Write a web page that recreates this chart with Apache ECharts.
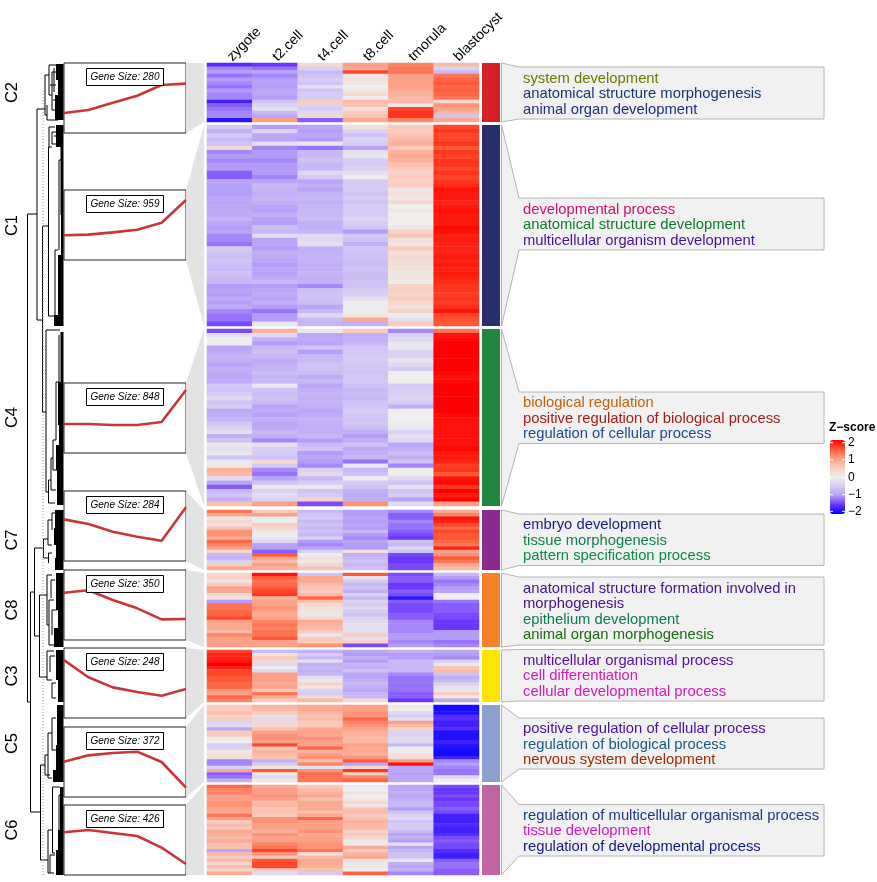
<!DOCTYPE html>
<html><head><meta charset="utf-8">
<style>html,body{margin:0;padding:0;background:#fff}#c{width:877px;height:882px}</style>
<script src="https://cdn.jsdelivr.net/npm/echarts@6/dist/echarts.min.js"></script>
</head><body><div id="c"></div>
<script>
const stages = ['zygote','t2.cell','t4.cell','t8.cell','tmorula','blastocyst'];
const clusterNames = ['C2','C1','C4','C7','C8','C3','C5','C6'];
const geneSizes = [280,959,848,284,350,248,372,426];

const zC2 = [
[-1.6,-1.5,0.3,1.0,1.2,0.7],[-1.1,-1.2,-0.4,0.9,1.3,-0.4],[-1.0,-0.9,-0.7,1.6,1.3,-0.7],[-1.2,-1.1,-0.6,0.1,1.0,1.3],
[-1.0,-1.0,-0.5,0.2,1.0,1.4],[-1.1,-0.95,-0.6,0.1,1.0,1.5],[-1.2,-1.0,-0.2,0.0,1.0,1.4],[-1.0,-0.9,-0.6,0.1,0.9,1.45],
[-1.1,-0.9,-0.5,0.3,0.8,1.4],[-1.1,-1.0,-0.5,0.0,0.7,1.3],[-1.7,-0.6,0.5,0.7,0.7,0.3],[-1.3,-0.4,-0.4,0.6,0.1,1.1],
[-1.2,-0.2,-0.5,0.2,1.6,1.0],[-1.1,-0.7,-0.3,0.5,1.7,0.7],[-1.1,-0.9,0.3,0.6,1.7,-0.6],[-1.8,1.0,-1.3,0.9,1.2,0.9]];
const zC1 = [
[-0.5,-1.0,-0.9,0.2,0.5,1.6],[-0.8,-0.4,-1.0,-0.4,0.5,1.7],[-0.5,-0.9,-0.9,-0.6,0.6,1.6],[-0.7,-0.9,-1.0,-0.4,0.7,1.6],
[-0.6,-0.2,-0.1,-0.5,0.8,1.7],[0.3,-1.1,-1.2,-0.9,0.5,1.5],[-1.1,-1.0,-0.7,-0.2,0.8,1.7],[-1.0,-1.0,-0.7,-0.1,0.9,1.6],
[-1.1,-1.1,-0.6,-0.5,0.8,1.7],[-1.0,-1.0,-0.7,-0.5,0.6,1.7],[-1.0,-1.0,-0.7,-0.4,0.5,1.6],[-1.3,-1.0,-0.3,-0.2,0.4,1.7],
[-1.3,-1.1,-0.5,0,0.5,1.6],[-0.9,-0.9,-0.9,-0.5,0.4,1.7],[-0.95,-0.7,-0.8,-0.5,0.5,1.75],[-0.95,-0.75,-0.9,-0.5,0.1,1.9],
[-1.0,-0.8,-0.75,-0.6,0.2,1.85],[-0.9,-0.75,-0.7,-0.5,0.1,1.85],[-0.9,-0.8,-0.8,-0.6,0.3,1.8],[-0.9,-0.9,-0.75,-0.5,0.0,1.85],
[-0.85,-0.95,-0.7,-0.5,0.1,1.9],[-0.85,-0.8,-0.7,-0.5,0.0,1.85],[-0.75,-0.95,-0.65,-0.35,0.05,1.85],[-0.9,-1.0,-0.8,-0.5,0,1.85],
[-1.0,-0.65,-0.8,-0.55,0.1,1.95],[-0.9,-0.7,-0.75,-1.0,0.4,1.9],[-1.1,-0.25,-0.3,-0.5,0.6,1.8],[-1.1,-0.9,-0.3,-0.6,0.2,1.85],
[-1.2,-0.9,-0.2,-0.8,0.1,1.8],[-0.5,-1.0,-0.8,-0.55,0.5,1.8],[-0.6,-0.8,-0.8,-0.6,0.2,1.8],[-0.65,-0.85,-0.75,-0.6,0.3,1.85],
[-0.6,-0.9,-0.75,-0.65,0.25,1.8],[-0.65,-1.0,-0.8,-0.65,0.2,1.85],[-0.7,-0.9,-0.8,-0.6,0.2,1.8],[-0.6,-0.95,-0.75,-0.65,0.1,1.85],
[-0.7,-0.85,-0.8,-0.65,0.15,1.8],[-0.75,-0.7,-0.8,-0.6,0.05,1.75],[-1.0,-0.95,-1.1,-0.6,0.4,1.7],[-0.95,-0.9,-0.65,-0.5,0.45,1.7],
[-1.0,-0.85,-0.6,-0.45,0.35,1.65],[-0.85,-0.9,-0.6,-0.2,0.5,1.7],[-0.95,-0.8,-0.65,0.0,0.3,1.65],[-0.85,-1.0,-0.9,-0.05,0.2,1.75],
[-1.1,-1.2,-0.7,0.05,0.4,1.9],[-1.2,-1.0,-0.3,0.1,0.0,1.6],[-1.2,-1.0,-0.7,0.9,-0.2,1.55],[-1.4,-0.1,-0.75,-0.8,0.5,1.5]];
const zC4 = [
[-1.4,0.8,-0.1,0.5,-1.1,1.3],[-0.2,-0.3,-0.9,-0.8,-0.4,1.9],[0,-0.8,-0.85,-0.8,-0.3,1.95],[0,-1.0,-0.9,-0.7,-0.1,2],
[-0.9,-0.7,-0.6,-0.55,-0.1,2],[-0.85,-0.6,-1.0,-0.55,-0.4,2],[-0.75,-0.7,-0.7,-0.5,-0.4,2],[-0.8,-0.85,-0.7,-0.5,-0.15,2],
[-0.9,-0.8,-0.6,-0.55,-0.3,2],[-0.8,-0.75,-0.6,-0.55,-0.5,2],[-0.85,-0.65,-0.65,-0.6,0,1.95],[-0.9,-0.75,-0.85,-0.55,0,1.9],
[-0.85,-0.7,-0.7,-0.55,0,1.95],[-0.55,-0.1,-0.9,-0.6,-0.5,2],[-0.6,-0.6,-0.8,-0.7,-0.45,2],[-0.5,-0.65,-0.75,-0.65,-0.45,2],
[-0.3,-0.6,-0.8,-0.7,-0.4,2],[-0.6,-0.7,-0.75,-0.6,-0.5,2],[-0.5,-0.9,-0.8,-0.55,-0.8,2],[-0.85,-0.85,-0.9,-0.5,0,2],
[-0.8,-0.95,-0.85,-0.55,0,1.95],[-0.75,-0.8,-0.75,-0.6,0,1.9],[-0.55,-0.9,-0.8,-0.55,-0.05,1.9],[-0.4,-0.85,-0.8,-0.65,-0.1,1.9],
[-0.2,-0.7,-0.8,-0.8,-0.4,1.9],[-0.8,-0.8,-0.7,-1.0,-0.2,1.9],[-0.6,-1.1,-1.0,-0.8,-0.3,1.9],[-0.1,-0.15,-0.7,-0.6,-0.9,1.9],
[-0.2,-0.45,-0.6,-0.85,-0.8,1.95],[-0.1,-0.5,-1.0,-0.8,-0.65,1.85],[-0.55,-0.6,-0.9,-0.7,-0.8,1.85],[-0.1,0.3,-1.0,-1.2,-0.6,1.8],
[0.1,-0.5,-1.1,-0.1,-1.1,1.65],[0.8,-1.1,-0.4,-0.7,0,1.7],[0.7,-1.2,-0.3,-0.6,0,1.5],[-0.3,-0.9,-0.7,0,-0.3,1.9],
[-0.9,-0.6,-0.5,-0.5,-0.6,1.95],[-1.3,-0.1,-0.1,-0.6,-0.2,1.7],[-0.7,-0.4,-0.6,-0.8,-0.6,2],[-0.6,-0.25,-0.5,-0.85,-0.5,1.85],
[-0.8,-0.4,0.4,-0.8,-0.9,2],[0.6,1.0,-1.4,1.1,-0.3,1.0]];
const zC7 = [
[1.3,0.5,-0.7,-1,-1.1,0.9],[0.9,1.0,-0.6,-1,-1.3,1.2],[0.1,0,-0.5,-0.9,-1.3,1.9],[0.3,0,-0.7,-1,-1.1,1.8],
[0.2,0.5,-0.6,-0.9,-1.2,1.6],[0.6,0.3,-0.7,-1,-1.2,1.4],[1.1,0.1,-0.6,-0.7,-1.3,1.6],[1.1,0,-0.7,-1,-1.4,1.5],
[0.9,-0.1,-0.4,-1.1,-1.5,1.5],[1.4,-0.3,-1,-0.9,-0.6,1.4],[1.2,-0.9,-1.1,-1,-0.7,1.3],[1.0,-1.0,-0.9,-1,-0.3,1.8],
[0.3,-1.3,-0.4,0.2,-0.6,1.0],[-0.7,1.5,0,-0.8,-1.4,1.1],[-0.8,1.0,0.2,-0.7,-1.5,1.5],[-0.4,0.7,0.1,-0.6,-1.5,1.3],
[0.5,1.0,0.3,-0.7,-1.4,0.9],[0.9,0.8,0.6,-0.6,-1.4,0.7]];
const zC8 = [
[0.3,1.9,-0.6,1.5,-1.4,-0.7],[0.4,1.5,0.9,-0.2,-1.3,-1.0],[0.1,1.3,0.9,-0.5,-1.3,-1.2],[0.5,1.4,0.7,-0.7,-1.5,-1.1],
[1.0,1.5,0.6,-0.6,-1.5,-1.0],[0.9,1.6,0.5,-0.8,-1.3,-0.9],[0.3,1.7,0.7,-0.4,-1.4,0],[0.2,0.8,1.4,-0.7,-1.8,0],
[-1.0,1.0,0.6,-0.4,-1.3,-1.2],[1.3,1.0,0.3,-0.5,-1.4,-1.3],[1.3,1.1,0.2,-0.3,-1.4,-1.3],[1.4,1.0,0.1,-0.5,-1.4,-1.3],
[1.4,0.9,0.1,-0.6,-1.3,-1.4],[1.6,1.0,0.3,-0.4,-1.3,-1.4],[1.0,1.2,0.9,-0.3,-1.1,-1.5],[0.9,1.3,0.8,-0.2,-1.1,-1.5],
[0.9,1.2,0.7,-0.2,-1.1,-1.5],[0.7,1.3,0.5,-0.2,-1.1,-1.0],[1.2,1.3,-0.1,0.5,-1.0,-1.0],[1.0,1.5,0.5,-0.2,-1.0,-1.0],
[1.0,1.0,0.5,0.4,-1.1,-1.2],[1.0,1.0,1.1,-1.4,-1.0,-1.1]];
const zC3 = [
[1.6,-0.7,-0.8,-0.9,-0.8,-0.9],[1.8,0.2,-0.5,-1,-1,-1],[1.8,0.5,-0.7,-0.8,-1,-1.1],[1.85,0.3,-0.2,-1,-0.7,-0.4],
[2,-0.3,-0.8,-0.7,-0.7,-0.1],[1.8,0,-0.7,-0.8,-0.7,0.6],[1.6,-0.3,-0.8,-0.6,-0.7,0.7],[1.6,1.0,-0.7,-0.9,-1.1,-0.6],
[1.5,1.0,-0.2,-0.9,-1.2,-0.8],[1.5,1.0,-0.1,-0.8,-1.2,-0.7],[1.4,0.9,0.4,-0.7,-1.2,-0.4],[1.4,1.0,0.1,-0.8,-1.2,-0.2],
[1.1,0.5,-0.4,-0.9,-1.2,-0.1],[1.0,1.3,-0.5,-0.7,-1.3,0.5],[1.4,0.9,0.3,-0.7,-1.3,0.1],[1.2,0.5,0.7,0.3,-1.5,-0.9]];
const zC5 = [
[0.5,0.8,0.9,1.0,0.1,-1.9],[0.5,0.7,0.9,1.0,0,-1.9],[0.7,0.5,0.8,1.1,-0.3,-1.85],[0.4,0.2,0.6,1.1,-0.5,-1.6],
[0.5,-0.3,0.7,1.4,-0.2,-1.6],[-0.4,0.3,0.5,1.2,1.0,-1.7],[-0.3,0.3,0.5,1.1,0.7,-1.7],[-0.9,0.6,0.9,1.0,0.4,-1.6],
[0.5,1.0,1.0,0.8,-0.4,-1.85],[0.5,1.1,0.9,0.8,-0.4,-1.85],[0.1,1.1,1.1,0.7,-0.3,-1.85],[0,1.0,1.0,0.7,-0.3,-1.7],
[-0.5,1.6,1.0,1.0,-0.7,-1.8],[-0.4,0.5,1.4,0.9,0,-1.85],[0.1,0.8,0.8,0.9,0,-1.9],[0.2,0.7,1.0,0.8,0.2,-1.9],
[0.2,0.6,1.1,1.1,0.2,-1.7],[-1.1,-0.8,0.7,1.5,1.0,-1.1],[-1.1,-0.5,1.2,-0.9,1.9,-1.0],[-0.4,0.2,-0.2,0.3,-0.9,-1.1],
[0.9,1.5,1.1,1.7,-0.9,-1.2],[-1.3,0.1,1.4,0.5,-1,-1.2],[-1.2,-0.3,1.3,1.2,-0.9,-0.3],[-0.8,0.1,1.3,1.4,-0.9,0]];
const zC6 = [
[1.4,0.9,0.5,-0.1,-0.9,-1.4],[1.2,1.0,0.7,0,-0.9,-1.5],[1.2,1.0,0.8,0.2,-0.8,-1.5],[1.0,1.1,0.9,0,-0.9,-1.4],
[1.0,1.0,0.6,0.1,-0.8,-1.5],[1.1,0.7,0.9,0.3,-0.7,-1.4],[1.1,0.7,0.9,0.1,-0.7,-1.4],[1.0,0.6,0.9,0.6,-1.0,-1.3],
[0.9,0.6,0.6,0.7,-0.6,-1.4],[1.3,0.5,0.9,0.5,-0.4,-1.7],[1.0,1.1,1.4,0.6,-0.3,-1.7],[0.5,1.1,1.0,0.8,-0.6,-1.7],
[0.7,1.0,1.0,0.7,-0.5,-1.6],[0.5,1.0,1.0,0.7,-0.5,-1.7],[0.9,0.8,1.1,0.4,-0.7,-1.7],[0.8,1.1,0.9,0.5,-0.9,-1.6],
[0.7,1.0,1.0,0.3,-0.8,-1.4],[0.9,1.0,1.0,0.1,-1,-1.3],[0.6,1.2,1.1,-0.1,-0.2,-1.4],[0.6,1.3,1.1,0.9,-0.9,-1.4],
[-0.9,1.6,1.3,0.5,-0.7,-1.6],[0.7,1.1,0.2,0.8,-0.6,-1.7],[0.5,0.5,0.7,0.9,-0.6,-1.7],[0.7,1.5,0.9,0.2,-0.1,-1.3],
[0.3,1.6,0.9,0.1,-0.8,-1.2],[0.7,1.6,0.8,0.1,-0.9,-1.2],[0.4,0.5,0.6,0,-0.8,-1.3],[0.9,-0.3,-0.5,1.4,-1.1,-1.3]];
const zByCluster = [zC2,zC1,zC4,zC7,zC8,zC3,zC5,zC6];

const trendC2 = [-0.86,-0.69,-0.27,0.13,0.74,0.82];
const trendC1 = [-0.59,-0.55,-0.42,-0.27,0.13,1.43];
const trendC4 = [-0.34,-0.34,-0.4,-0.4,-0.23,1.6];
const trendC7 = [0.38,0.11,-0.33,-0.61,-0.84,1.07];
const trendC8 = [0.70,0.84,0.29,-0.19,-0.82,-0.8];
const trendC3 = [1.31,0.33,-0.25,-0.51,-0.73,-0.34];
const trendC5 = [0.02,0.38,0.51,0.59,0,-1.47];
const trendC6 = [0.44,0.57,0.4,0.23,-0.44,-1.37];
const trends = [trendC2,trendC1,trendC4,trendC7,trendC8,trendC3,trendC5,trendC6];

const goTerms = [
 ['system development','anatomical structure morphogenesis','animal organ development'],
 ['developmental process','anatomical structure development','multicellular organism development'],
 ['biological regulation','positive regulation of biological process','regulation of cellular process'],
 ['embryo development','tissue morphogenesis','pattern specification process'],
 ['anatomical structure formation involved in','morphogenesis','epithelium development','animal organ morphogenesis'],
 ['multicellular organismal process','cell differentiation','cellular developmental process'],
 ['positive regulation of cellular process','regulation of biological process','nervous system development'],
 ['regulation of multicellular organismal process','tissue development','regulation of developmental process']];

/* dendrogram: [height1,leaf1,height2,leaf2] merges */
const dendroBranches = [
[27.5,214,27.5,702],[27.5,214,37,214],[27.5,702,30.5,702],[37,109,37,320],[37,109,45,109],[37,320,42,320],
[42.5,226,42.5,412],[42.5,226,48.5,226],[42.5,412,46,412],[48.5,147,48.5,316],[46,330,46,492],[46,330,60,330],
[30.5,592,30.5,812],[30.5,592,34.5,592],[30.5,812,40.5,812],[34.5,548,34.5,636],[34.5,548,43.5,548],[34.5,636,39.5,636],
[39.5,595,39.5,677],[39.5,595,47,595],[39.5,677,47,677],[40.5,765,40.5,860],[40.5,765,45,765],[40.5,860,48,860],
[45,75,45,115],[45,75,49,75],[45,115,47,115],[49,65,49,95],[49,65,58,65],[49,95,52,95],[47,105,47,120],[47,120,58,120],
[52,72,52,110],[52,72,58,72],[52,110,58,110],[50,85,56,85],[54,68,54,92],[53,100,58,100],
[48.5,147,52,147],[49,127,49,147],[49,127,55,127],[52,132,52,144],[52,132,58,132],[52,144,58,144],
[48.5,316,55,316],[55,250,55,316],[55,250,58,250],[59,160,59,250],[59,160,61,160],[54,136,60,136],
[46,492,48.5,492],[48.5,480,48.5,503],[48.5,503,55,503],[48.5,480,51,480],[51,458,51,490],[51,458,53,458],[53,440,53,470],
[53,440,56,440],[56,382,56,440],[56,382,59,382],[59,335,59,382],[53,470,57,470],[51,490,56,490],
[43.5,539,43.5,558],[43.5,539,48,539],[43.5,558,48,558],[48,520,48,545],[48,520,52,520],[48,545,52,545],[48.5,553,48.5,563],[48.5,553,52,553],[52,513,52,530],[52,513,56,513],
[47,575,47,625],[47,575,52,575],[47,625,49,625],[49,600,49,645],[49,600,54,600],[49,645,54,645],[51,580,51,598],[51,580,55,580],[52,610,52,635],[52,610,57,610],
[47,651,47,680],[47,651,54,651],[47,680,52,680],[52,683,52,698],[52,683,56,683],[52,698,56,698],[50,656,50,672],[50,656,55,656],
[45,755,45,775],[45,755,48,755],[45,775,50,775],[48,733,48,778],[48,733,52,733],[48,778,52,778],[52,718,52,750],[52,718,56,718],[52,750,56,750],
[48,830,48,873],[48,830,52,830],[48,873,54,873],[52.5,787,52.5,853],[52.5,787,60,787],[52.5,853,55,853],[50,855,50,873],[50,855,55,855],[59,795,59,840],[59,795,61,795]];
/* dense leaf part of each subtree: [height, leafFrom, leafTo] */
const dendroLeaves = [
[56,64,80],[58,80,95],[55,95,120],[56,125,147],[60.5,147,215],[61,215,255],[58,255,315],[54,315,326],
[60.5,332,382],[58,382,425],[59,425,445],[56,445,470],[57,470,505],
[55,510,528],[54,528,545],[56,545,558],[55,558,570],[56,573,610],[58,610,628],[54,628,647],
[56,650,680],[58,680,702],[57,705,745],[56,745,770],[53,770,782],[60,787,830],[58,830,850],[56,850,875]];
const dendroCut = [[43,91],[43,875]];

/* ---------- layout & styling (separate from the data) ---------- */
const FONT = '"Liberation Sans", Arial, sans-serif';
const annoColors = ['#D42027','#2A2E6C','#21873F','#8A2A8C','#F6802B','#FFE500','#8C9FD1','#C164A4'];
const heatSpan = [[63,122],[125,326],[329,506],[510,570],[573,647],[650,702],[705,782],[785,875]];
const lineTop = [63,190,383,491,570,648,727,805];
const boxSpan = [[67,119],[198,250],[392,443.5],[514,565.5],[577,645],[649.5,701],[718,769],[804.5,856]];
const termColors = [
 ['#6B7A00','#15386C','#1E2F80'],['#CC0F70','#117A2A','#4A1290'],['#C4600F','#A61C1C','#1F4A8A'],['#1A1A80','#10804A','#0E8A45'],
 ['#45108A','#45108A','#0E7A50','#1A6A10'],['#5A0AA5','#D818B8','#D818B8'],['#4A10A0','#1A5A80','#A02808'],['#1A3A7A','#D818C0','#101A80']];
const HX=207,HW=272,LX=64,LW=122,LH=70,AX=482,AW=18,TBX=519,TBR=824;

const grid=[],xAxis=[],yAxis=[],series=[],graphic=[],heatIdx=[];
const addAxes=(x,y)=>{xAxis.push(x);yAxis.push(y);return xAxis.length-1;};

clusterNames.forEach((name,i)=>{
  const [t,b]=heatSpan[i], rows=zByCluster[i];
  grid.push({left:HX,top:t,width:HW,height:b-t});
  let g=addAxes({type:'category',data:stages,gridIndex:grid.length-1,position:'top',show:i===0,
      axisLine:{show:false},axisTick:{show:false},
      axisLabel:{rotate:-45,interval:0,margin:4,fontSize:14,fontFamily:FONT,color:'#000',hideOverlap:false}},
    {type:'category',data:rows.map((_,r)=>r),inverse:true,gridIndex:grid.length-1,show:false});
  const hd=[]; rows.forEach((row,r)=>row.forEach((v,c)=>hd.push([c,r,v])));
  heatIdx.push(series.length);
  series.push({type:'heatmap',name:name,xAxisIndex:g,yAxisIndex:g,data:hd,silent:true,progressive:0,itemStyle:{borderWidth:0}});
  grid.push({left:AX,top:t,width:AW,height:b-t});
  g=addAxes({type:'category',data:[name],gridIndex:grid.length-1,show:false},
            {type:'value',min:0,max:1,gridIndex:grid.length-1,show:false});
  series.push({type:'bar',xAxisIndex:g,yAxisIndex:g,barWidth:'100%',silent:true,data:[{value:1,itemStyle:{color:annoColors[i]}}]});
  const lt=lineTop[i];
  grid.push({left:LX,top:lt,width:LW,height:LH,show:true,backgroundColor:'#fff',borderColor:'#222',borderWidth:1});
  g=addAxes({type:'category',data:stages,boundaryGap:false,gridIndex:grid.length-1,show:false},
            {type:'value',min:-2,max:2,gridIndex:grid.length-1,show:false});
  series.push({type:'line',xAxisIndex:g,yAxisIndex:g,data:trends[i],symbol:'none',silent:true,lineStyle:{color:'#C93538',width:2.6},z:3});
  graphic.push({type:'rect',z:10,shape:{x:LX+22.5,y:lt+5.5,width:77,height:17},style:{fill:'#fff',stroke:'#000',lineWidth:1}});
  graphic.push({type:'text',z:11,x:LX+61,y:lt+14,style:{text:'Gene Size: '+geneSizes[i],fontStyle:'italic',fontSize:10,fontFamily:FONT,fill:'#000',align:'center',verticalAlign:'middle'}});
  graphic.push({type:'polygon',z:0,shape:{points:[[LX+LW,lt],[204,t],[204,b],[LX+LW,lt+LH]]},style:{fill:'#E3E3E3'}});
  graphic.push({type:'text',z:5,x:12,y:(t+b)/2,rotation:Math.PI/2,style:{text:name,font:'16.5px '+FONT,fill:'#000',align:'center',verticalAlign:'middle'}});
  const [bt,bb]=boxSpan[i];
  graphic.push({type:'polygon',z:1,shape:{points:[[501.5,t],[TBX,bt],[TBR,bt],[TBR,bb],[TBX,bb],[501.5,b]]},style:{fill:'#F1F1F1',stroke:'#B4B4B4',lineWidth:1}});
  const terms=goTerms[i], lh=15.5, y0=(bt+bb)/2-(terms.length-1)*lh/2+1;
  terms.forEach((s,k)=>graphic.push({type:'text',z:5,x:523,y:y0+k*lh,style:{text:s,font:'14.8px '+FONT,fill:termColors[i][k],align:'left',verticalAlign:'middle'}}));
});

grid.push({left:0,top:63,width:64,height:812});
const dg=addAxes({type:'value',min:0,max:64,gridIndex:grid.length-1,show:false},
                 {type:'value',min:63,max:875,inverse:true,gridIndex:grid.length-1,show:false});
series.push({type:'custom',xAxisIndex:dg,yAxisIndex:dg,silent:true,clip:false,data:dendroLeaves,encode:{x:0,y:[1,2]},
  renderItem:(p,api)=>{const a=api.coord([api.value(0),api.value(1)]),b=api.coord([63.5,api.value(2)]);
    return {type:'rect',shape:{x:a[0],y:a[1],width:b[0]-a[0],height:b[1]-a[1]},style:{fill:'#000'}};}});
series.push({type:'custom',xAxisIndex:dg,yAxisIndex:dg,silent:true,clip:false,data:dendroBranches,encode:{x:[0,2],y:[1,3]},
  renderItem:(p,api)=>{const a=api.coord([api.value(0),api.value(1)]),b=api.coord([api.value(2),api.value(3)]);
    return {type:'line',shape:{x1:a[0],y1:a[1],x2:b[0],y2:b[1]},style:{stroke:'#000',lineWidth:1}};}});
series.push({type:'line',xAxisIndex:dg,yAxisIndex:dg,silent:true,data:dendroCut,symbol:'none',lineStyle:{color:'#999',width:1,type:[1,2]}});

graphic.push({type:'text',z:20,x:829,y:428,style:{text:'Z\u2212score',font:'bold 12px '+FONT,fill:'#000',align:'left',verticalAlign:'middle'}});
[['2',442.7],['1',459.7],['0',477.7],['\u22121',494.7],['\u22122',511.3]].forEach(([s,y])=>{
  graphic.push({type:'text',z:20,x:848,y:y,style:{text:s,font:'12px '+FONT,fill:'#000',align:'left',verticalAlign:'middle'}});
  graphic.push({type:'line',z:20,shape:{x1:830,y1:y,x2:833,y2:y},style:{stroke:'#fff',lineWidth:1}});
  graphic.push({type:'line',z:20,shape:{x1:842,y1:y,x2:845,y2:y},style:{stroke:'#fff',lineWidth:1}});
});

const chart=echarts.init(document.getElementById('c'),null,{renderer:'canvas'});
chart.setOption({
  animation:false,backgroundColor:'#fff',grid,xAxis,yAxis,series,
  graphic:{elements:graphic},
  visualMap:{type:'continuous',min:-2,max:2,seriesIndex:heatIdx,dimension:2,calculable:false,
    left:830,top:440,itemWidth:15,itemHeight:74,padding:0,text:null,showLabel:false,
    textStyle:{fontSize:0,color:'transparent'},formatter:()=>'',
    inRange:{color:['#0000FF','#6A35FC','#B49CF8','#D6CBF3','#EEEEEE','#FACBBC','#FCA187','#FF5836','#FF0000']}}
});
</script></body></html>
